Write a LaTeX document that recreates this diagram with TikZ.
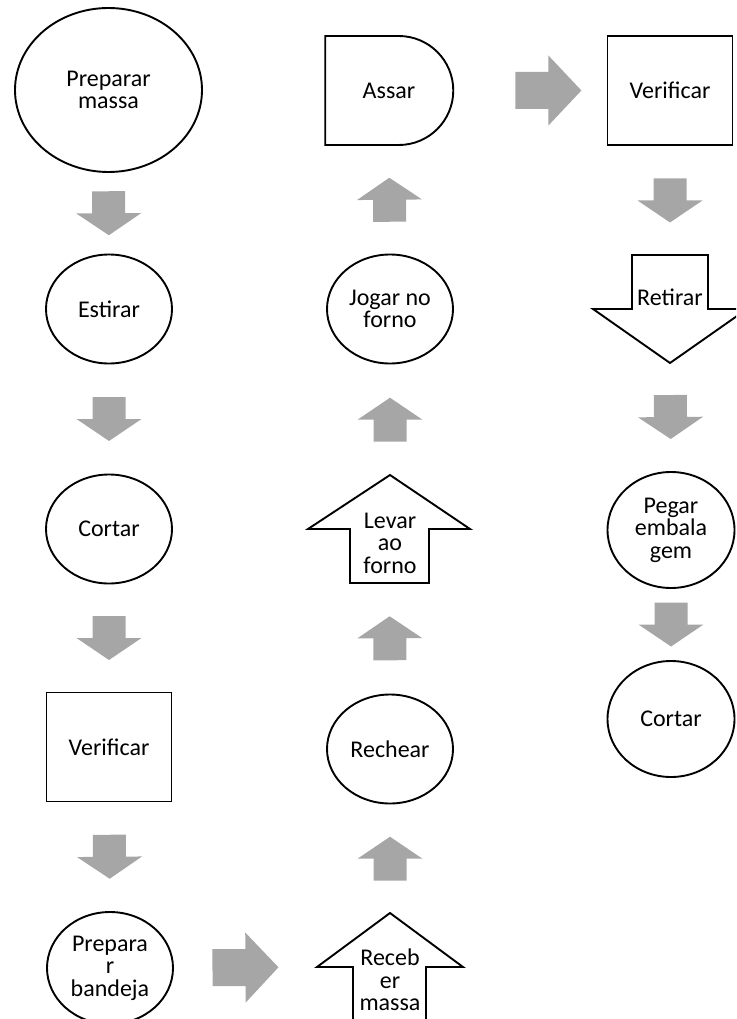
\documentclass[tikz,border=0pt]{standalone}
\usepackage{fontspec}
\setmainfont{Carlito}
\usetikzlibrary{shapes.geometric,shapes.misc,calc}
\definecolor{arrgray}{RGB}{166,166,166}

\tikzset{
  blockflow/.style n args={3}{fill=arrgray, draw=none,
    to path={
      ($(\tikztostart)!.5!(\tikztotarget)!#1!(\tikztostart)!#2!-90:(\tikztotarget)$)
      -- ($(\tikztostart)!.5!(\tikztotarget)!#2!-90:(\tikztotarget)$)
      -- ($(\tikztostart)!.5!(\tikztotarget)!#3!-90:(\tikztotarget)$)
      -- ($(\tikztostart)!.5!(\tikztotarget)!#1!(\tikztotarget)$)
      -- ($(\tikztostart)!.5!(\tikztotarget)!#3!90:(\tikztotarget)$)
      -- ($(\tikztostart)!.5!(\tikztotarget)!#2!90:(\tikztotarget)$)
      -- ($(\tikztostart)!.5!(\tikztotarget)!#1!(\tikztostart)!#2!90:(\tikztotarget)$)
      -- cycle}},
  flow/.style={blockflow={22pt}{16.5pt}{32.5pt}},
  bigflow/.style={blockflow={33pt}{18.5pt}{35pt}}
}

\begin{document}
\begin{tikzpicture}[x=1pt,y=-1pt,
  every node/.style={font=\fontsize{24}{22.5}\selectfont, align=center},
  oval/.style={ellipse, draw, line width=1.9pt, inner sep=0pt, minimum width=126pt, minimum height=109pt},
  box/.style={rectangle, draw, line width=1.9pt, inner sep=0pt, minimum width=125pt, minimum height=109pt},
  halfround/.style={rounded rectangle, rounded rectangle left arc=none, draw, line width=1.9pt, inner sep=0pt, minimum width=128pt, minimum height=109pt},
  outline/.style={draw, line width=1.9pt, line join=miter}]

\useasboundingbox (0,0) rectangle (736,1019);
\clip (0,0) rectangle (736,1019);

% first column
\node[oval, minimum width=187pt, minimum height=164pt] (prepmassa) at (108.5,90) {Preparar\\massa};
\node[oval] (estirar) at (109,309) {Estirar};
\node[oval] (cortar) at (109,529) {Cortar};
\node[box] (verif) at (109,747) {Verificar};
\node[oval, minimum height=112pt] (bandeja) at (110,968) {Prepara\\r\\bandeja};

\fill[flow] (prepmassa.south) to (estirar.north);
\fill[flow] (estirar.south) to (cortar.north);
\fill[flow] (cortar.south) to (verif.north);
\fill[flow] (verif.south) to (bandeja.north);

% second column
\draw[outline] (353,1030) -- (353,967) -- (317,967) coordinate (recleft) -- (390,913) coordinate (rectip)
  -- (463,967) -- (426,967) -- (426,1030);
\node (receber) at (390,980) {Receb\\er\\massa};
\node[oval] (rechear) at (390,749) {Rechear};
\coordinate (levbot) at (389.5,583);
\draw[outline] (350,583) -- (350,529) -- (308,529) -- (390,475) coordinate (levtip)
  -- (470,529) -- (429,529) -- (429,583) -- cycle;
\node (levar) at (390,543) {Levar\\ao\\forno};
\node[oval] (jogar) at (390,309) {Jogar no\\forno};
\node[halfround] (assar) at (389,90.5) {Assar};

\fill[bigflow] (bandeja.east) to (recleft);
\fill[flow] (rectip) to (rechear.south);
\fill[flow] (rechear.north) to (levbot);
\fill[flow] (levtip) to (jogar.south);
\fill[flow] (jogar.north) to (assar.south);

% third column
\node[box] (verif2) at (670,90.5) {Verificar};
\coordinate (rettop) at (670,255);
\coordinate (rettip) at (670,363);
\draw[outline] (632,309) -- (632,255) -- (708,255) -- (708,309) -- (747,309) -- (rettip) -- (593,309) -- cycle;
\node (retirar) at (670,297) {Retirar};
\node[oval, minimum width=127pt, minimum height=116pt] (pegar) at (671,530) {Pegar\\embala\\gem};
\node[oval, minimum width=127pt, minimum height=116pt] (cortar2) at (671,719) {Cortar};

\fill[bigflow] ([xshift=36pt]assar.east) to (verif2.west);
\fill[flow] (verif2.south) to (rettop);
\fill[flow] (rettip) to (pegar.north);
\fill[flow] (pegar.south) to (cortar2.north);

\end{tikzpicture}
\end{document}
